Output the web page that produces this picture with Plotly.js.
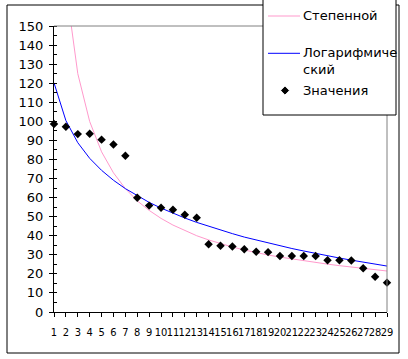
<!DOCTYPE html>
<html>
<head>
<meta charset="utf-8">
<script src="https://cdn.plot.ly/plotly-3.0.1.min.js"></script>
<style>html,body{margin:0;padding:0;background:#fff;}#chart{width:408px;height:359px;}</style>
</head>
<body>
<div id="chart"></div>
<script>
// ---- data ----
const categories = [1,2,3,4,5,6,7,8,9,10,11,12,13,14,15,16,17,18,19,20,21,22,23,24,25,26,27,28,29];
const values = [98.6,97.2,93.3,93.5,90.4,87.8,82,59.9,55.8,54.7,53.6,51,49.4,35.5,34.8,34.3,32.9,31.6,31.4,29.4,29.4,29.4,29.4,27.1,27.1,27,22.9,18.5,15.4];
const powerTrend = [293,171,125,99.9,84,73,64.7,58.3,53.3,49.1,45.6,42.6,40,37.8,35.8,34.1,32.5,31.1,29.9,28.8,27.8,26.8,25.9,25.1,24.3,23.6,22.9,22.2,21.5];
const logTrend = [120.2,100.4,88.8,80.6,74.3,69.1,64.7,60.9,57.5,54.5,51.8,49.3,47,44.9,42.9,41.1,39.3,37.7,36.2,34.7,33.3,32,30.7,29.5,28.3,27.2,26.1,25.1,24.1];
const tickLabels = categories.map(String);
const names = ["Степенной", "Логарифмиче<br>ский", "Значения"];

// ---- layout geometry ----
const W = 408, H = 359;
const L = 54, R = 387, T = 26, B = 312;
const px = p => (p - L) / (R - L);
const py = p => (B - p) / (B - T);
const FONT = "DejaVu Sans";
const NARROW = "Liberation Sans Narrow, DejaVu Sans Condensed, sans-serif";

const traces = [
  {x: categories, y: powerTrend, type: "scatter", mode: "lines", name: "Степенной",
   line: {color: "#FF99CC", width: 1}, showlegend: false, hoverinfo: "skip"},
  {x: categories, y: logTrend, type: "scatter", mode: "lines", name: "Логарифмический",
   line: {color: "#0000FF", width: 1}, showlegend: false, hoverinfo: "skip"},
  {x: categories, y: values, type: "scatter", mode: "markers", name: "Значения",
   marker: {symbol: "diamond", size: 6.5, color: "#000000", line: {width: 0}}, cliponaxis: false, showlegend: false}
];

const lx0 = 268, lx1 = 300, tx = 301;
const dcx = 285, dcy = 90.5, dh = 3.6;
const shapes = [
  // chart area border
  {type: "rect", xref: "paper", yref: "paper", x0: px(7), x1: px(399), y0: py(353), y1: py(5),
   line: {color: "#000", width: 1}, fillcolor: "rgba(0,0,0,0)"},
  // plot area grey border (top and right)
  {type: "line", xref: "paper", yref: "paper", x0: 0, x1: 1, y0: 1, y1: 1, line: {color: "#808080", width: 1}},
  {type: "line", xref: "paper", yref: "paper", x0: 1, x1: 1, y0: 0, y1: 1, line: {color: "#808080", width: 1}},
  // legend box
  {type: "rect", xref: "paper", yref: "paper", x0: px(263), x1: px(396), y0: py(115), y1: py(-1),
   line: {color: "#000", width: 1}, fillcolor: "#ffffff"},
  // legend symbols
  {type: "line", xref: "paper", yref: "paper", x0: px(lx0), x1: px(lx1), y0: py(16), y1: py(16), line: {color: "#FF99CC", width: 1}},
  {type: "line", xref: "paper", yref: "paper", x0: px(lx0), x1: px(lx1), y0: py(53.3), y1: py(53.3), line: {color: "#0000FF", width: 1}},
  {type: "path", xref: "paper", yref: "paper",
   path: `M ${px(dcx)} ${py(dcy - dh)} L ${px(dcx + dh)} ${py(dcy)} L ${px(dcx)} ${py(dcy + dh)} L ${px(dcx - dh)} ${py(dcy)} Z`,
   fillcolor: "#000", line: {color: "#000", width: 1}}
];

const annotations = [
  {xref: "paper", yref: "paper", x: px(tx), y: py(16), text: names[0], showarrow: false, xanchor: "left", yanchor: "middle", align: "left", font: {family: FONT, size: 13, color: "#000"}},
  {xref: "paper", yref: "paper", x: px(tx), y: py(61), text: names[1], showarrow: false, xanchor: "left", yanchor: "middle", align: "left", font: {family: FONT, size: 13, color: "#000"}},
  {xref: "paper", yref: "paper", x: px(tx), y: py(dcy), text: names[2], showarrow: false, xanchor: "left", yanchor: "middle", align: "left", font: {family: FONT, size: 13, color: "#000"}}
];

const layout = {
  width: W, height: H,
  margin: {l: L, r: W - R, t: T, b: H - B, pad: 0},
  paper_bgcolor: "#fff", plot_bgcolor: "#fff",
  showlegend: false,
  font: {family: FONT, size: 13, color: "#000"},
  xaxis: {
    range: [1, 29], tickmode: "array", tickvals: categories, ticktext: tickLabels, tickangle: 0,
    showgrid: false, zeroline: false, showline: true, linecolor: "#000", linewidth: 1,
    ticks: "outside", ticklen: 4, tickcolor: "#000", tickwidth: 1, ticklabelstandoff: 6,
    tickfont: {family: NARROW, size: 11, color: "#000"}, fixedrange: true
  },
  yaxis: {
    range: [0, 150], tickmode: "linear", tick0: 0, dtick: 10,
    showgrid: false, zeroline: false, showline: true, linecolor: "#000", linewidth: 1,
    ticks: "outside", ticklen: 4, tickcolor: "#000", tickwidth: 1, ticklabelstandoff: 3,
    minor: {ticks: "inside", dtick: 5, ticklen: 3, tickcolor: "#000", showgrid: false},
    tickfont: {family: FONT, size: 13, color: "#000"}, fixedrange: true
  },
  shapes: shapes,
  annotations: annotations
};

Plotly.newPlot("chart", traces, layout, {displayModeBar: false, staticPlot: true});
</script>
</body>
</html>
